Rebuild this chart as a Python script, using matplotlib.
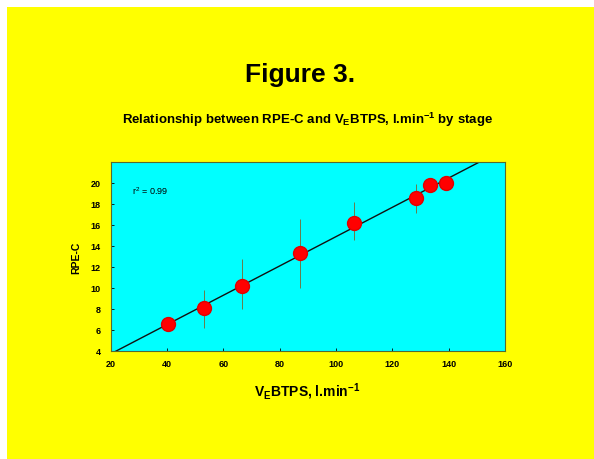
import numpy as np
import matplotlib
matplotlib.use("Agg")
import matplotlib.pyplot as plt
from matplotlib.patches import Rectangle

plt.rcParams['font.family'] = ['Liberation Sans', 'DejaVu Sans']
plt.rcParams['mathtext.fontset'] = 'custom'
plt.rcParams['mathtext.rm'] = 'Liberation Sans'
plt.rcParams['mathtext.it'] = 'Liberation Sans:italic'
plt.rcParams['mathtext.bf'] = 'Liberation Sans:bold'

# data (stage means)
ve = [40.4, 53.0, 66.6, 87.3, 106.3, 128.5, 133.4, 139.0]
rpe = [6.5, 8.1, 10.2, 13.3, 16.2, 18.5, 19.8, 20.0]
err_lo = [0.0, 1.9, 2.2, 3.3, 1.7, 1.4, 0.0, 0.0]
err_hi = [0.0, 1.7, 2.5, 3.2, 2.0, 1.4, 0.0, 0.0]
x_ticks = [20, 40, 60, 80, 100, 120, 140, 160]
y_ticks = [4, 6, 8, 10, 12, 14, 16, 18, 20]
r2_text = 'r$^2$ = 0.99'

fig = plt.figure(figsize=(5.94, 4.6), dpi=100)
fig.patch.set_facecolor('white')
bg = Rectangle((7 / 594, 0), 1, 1 - 8 / 460, transform=fig.transFigure,
               facecolor='#FFFF00', edgecolor='none', zorder=-10)
fig.patches.append(bg)

ax = fig.add_axes([0.1864, 0.2354, 0.664, 0.4109])
ax.set_facecolor('#00FFFF')

# regression line from the data
slope, icpt = np.polyfit(ve, rpe, 1)
xx = np.array([20, 160])
ax.plot(xx, slope * xx + icpt, color='#111111', lw=1.0, zorder=2)

ax.errorbar(ve, rpe, yerr=[err_lo, err_hi], fmt='none', ecolor='#6b7a4a',
            elinewidth=0.7, capsize=0, zorder=3)
ax.plot(ve, rpe, 'o', color='#FF0000', markeredgecolor='#e00000',
        markersize=10, zorder=4)

ax.text(27.5, 19.3, r2_text, fontsize=6.5, va='center', ha='left')

ax.set_xlim(20, 160)
ax.set_ylim(4, 22)
ax.set_xticks(x_ticks)
ax.set_yticks(y_ticks)
ax.tick_params(direction='in', length=2, width=0.6, labelsize=6.5)
ax.tick_params(axis='x', pad=6)
ax.tick_params(axis='y', pad=7)
for lab in ax.get_xticklabels() + ax.get_yticklabels():
    lab.set_fontweight('bold')
for s in ax.spines.values():
    s.set_color('#556b2f')
    s.set_linewidth(0.8)

fig.text(0.505, 0.837, 'Figure 3.', fontsize=19, fontweight='bold',
         ha='center', va='center')
fig.text(0.518, 0.74, 'Relationship between RPE-C and V$_\\mathbf{E}$BTPS, l.min$^{\\mathbf{-1}}$ by stage',
         fontsize=9.5, fontweight='bold', ha='center', va='center')
fig.text(0.517, 0.148, 'V$_\\mathbf{E}$BTPS, l.min$^{\\mathbf{-1}}$',
         fontsize=10, fontweight='bold', ha='center', va='center')
fig.text(0.129, 0.44, 'RPE-C', fontsize=7.5, fontweight='bold',
         ha='center', va='center', rotation=90)

fig.savefig('out.png', dpi=100)
